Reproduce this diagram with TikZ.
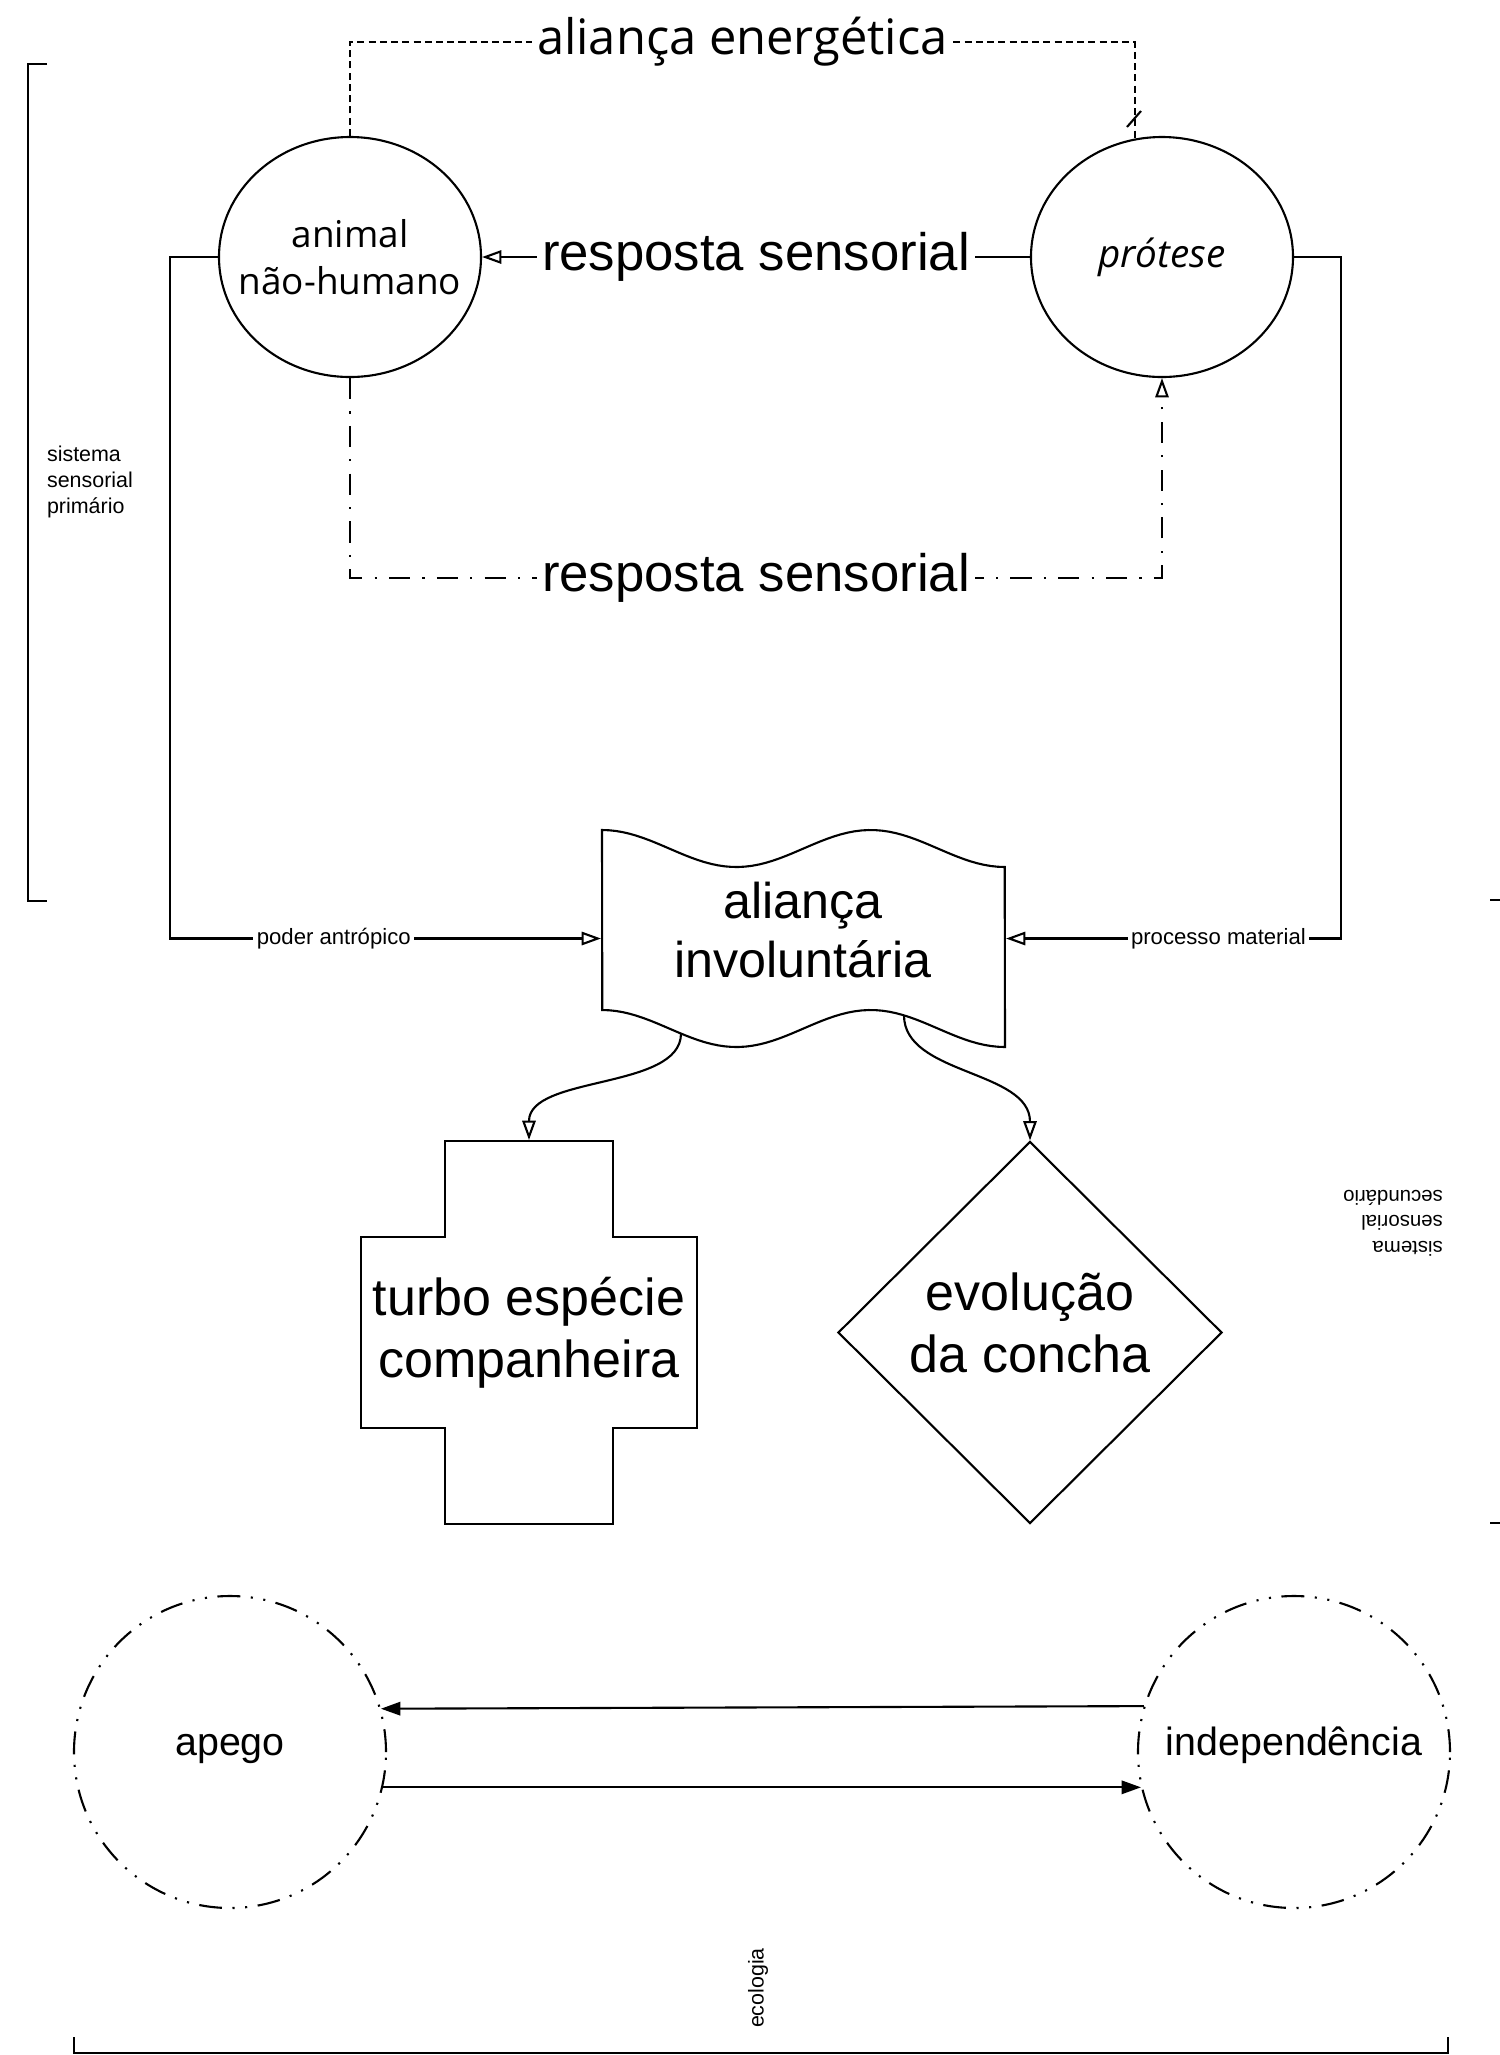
\documentclass[tikz,border=0pt]{standalone}
\usepackage{fontspec}
\setmainfont{Liberation Sans}
\newfontfamily\osans{Open Sans}
\usetikzlibrary{arrows.meta,shapes.geometric}
\begin{document}
\begin{tikzpicture}[x=0.1mm,y=-0.1mm, line width=0.6pt,
  opentip/.style={-{Triangle[open,length=5.5pt,width=3.8pt]}},
  filltip/.style={-{Triangle[length=5.5pt,width=3.8pt]}},
  elnode/.style={ellipse, draw, minimum width=26.2mm, minimum height=24mm, inner sep=0pt},
  dashdotline/.style={dash pattern=on 6pt off 3.5pt on 0.6pt off 3.5pt},
  dashdotdot/.style={dash pattern=on 6.5pt off 3pt on 0.6pt off 3pt on 0.6pt off 3pt},
  shortdash/.style={dash pattern=on 2pt off 1.2pt},
  biglbl/.style={font=\fontsize{15}{17}\selectfont, fill=white, inner sep=1.5pt},
  toplbl/.style={font=\osans\fontsize{13.9}{16}\selectfont, fill=white, inner sep=1.5pt},
  smalllbl/.style={font=\fontsize{6.3}{7.4}\selectfont, fill=white, inner sep=1pt},
  note/.style={font=\fontsize{6.1}{7.4}\selectfont, inner sep=0pt, align=left},
  bigtxt/.style={font=\fontsize{14.8}{17.6}\selectfont, align=center},
  ringnode/.style={circle, draw, dashdotdot, minimum size=31.2mm, inner sep=0pt,
    text height=6.5pt, text depth=4.4pt, font=\fontsize{11.2}{13}\selectfont},
]
\useasboundingbox (0,0) rectangle (1500,2055);

% ellipses
\node[elnode, label={[font=\osans\fontsize{10.5}{13.4}\selectfont, align=center]center:animal\\não-humano}] (animal) at (350,257) {};
\node[elnode, label={[font=\osans\itshape\fontsize{11}{13}\selectfont]center:prótese}] (protese) at (1162,257) {};

% tape shape
\node[minimum width=40.3mm, minimum height=21.7mm, inner sep=0pt] (alianca) at (803.5,938.5) {};
\draw plot[domain=0:1, samples=60] ({602+403*\x},{830+18.5*(1-cos(540*\x))})
  -- plot[domain=1:0, samples=60] ({602+403*\x},{1010+18.5*(1-cos(540*\x))}) -- cycle;
\node[font=\fontsize{14.3}{16.8}\selectfont, align=center] (aliancatxt) at (803,930) {aliança\\involuntária};

% cross shape
\node[minimum width=33.6mm, minimum height=38.3mm, inner sep=0pt, bigtxt] (turbo) at (529,1332.5) {turbo espécie\\companheira};
\draw (445,1141) -- (613,1141) -- (613,1237) -- (697,1237) -- (697,1428) -- (613,1428)
  -- (613,1524) -- (445,1524) -- (445,1428) -- (361,1428) -- (361,1237) -- (445,1237) -- cycle;

% diamond
\node[diamond, draw, minimum width=38.4mm, minimum height=38.2mm, inner sep=0pt] (evol) at (1030,1332.5) {};
\node[bigtxt] (evoltxt) at (1030,1323) {evolução\\da concha};

% rings
\node[ringnode] (apego) at (230,1752) {apego};
\node[ringnode] (indep) at (1294,1752) {independência};

% connectors
\draw[shortdash] (animal.north) -- (350,42) -| (protese.103.4)
  node[pos=0.25, toplbl] {aliança energética};
\coordinate (dm) at (1134,119);
\draw (dm) ++(-7,8) -- ++(14,-16);

\draw[opentip] (protese.west) -- (animal.east) node[midway, biglbl] {resposta sensorial};
\draw[dashdotline, opentip] (animal.south) -- (350,578) -| (protese.south)
  node[pos=0.25, biglbl] {resposta sensorial};

\draw[opentip] (animal.west) -- (170,257) |- (alianca.west)
  node[pos=0.69, smalllbl] {poder antrópico};
\draw[opentip] (protese.east) -- (1341,257) |- (alianca.east)
  node[pos=0.683, smalllbl] {processo material};

\coordinate (alA) at (681,1033.5);
\coordinate (alB) at (904,1015.3);
\draw[opentip] (alA) .. controls (681,1090) and (529,1075) .. (turbo.north);
\draw[opentip] (alB) .. controls (904,1075) and (1030,1070) .. (evol.north);

\draw[filltip] (indep.163.2) -- (apego.16.8);
\draw[filltip] (apego.-13.7) -- (indep.193.7);

% brackets
\draw (47,64) -- (28,64) -- (28,901) -- (47,901);
\draw (1490,900) -- (1500,900);
\draw (1490,1523) -- (1500,1523);
\draw (74,2037) -- (74,2053) -- (1448,2053) -- (1448,2037);

% bracket notes
\node[note, anchor=north west] (sisprim) at (46,445) {sistema\\sensorial\\primário};
\node[note, rotate=180, font=\fontsize{5.8}{7.3}\selectfont] (sissec) at (1393,1223) {sistema\\sensorial\\secundário};
\node[note, rotate=90] (eco) at (758,1988) {ecologia};
\end{tikzpicture}
\end{document}
